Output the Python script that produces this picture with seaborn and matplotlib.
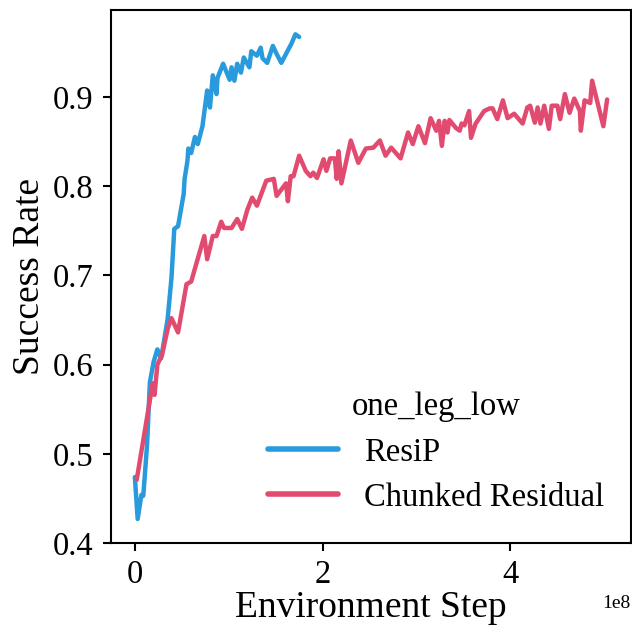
import pandas as pd
import matplotlib
matplotlib.use("Agg")
import matplotlib.pyplot as plt
import seaborn as sns

# --- datos (x en unidades de 1e8) ---
resip_step = [0.00, 0.03, 0.07, 0.09, 0.13, 0.16, 0.20, 0.24, 0.28, 0.34, 0.35, 0.39,
              0.42, 0.46, 0.52, 0.53, 0.56, 0.57, 0.60, 0.64, 0.67, 0.72, 0.77, 0.80,
              0.83, 0.87, 0.88, 0.94, 1.01, 1.03, 1.06, 1.09, 1.13, 1.16, 1.22, 1.24,
              1.30, 1.34, 1.36, 1.41, 1.47, 1.51, 1.56, 1.61, 1.67, 1.71, 1.75]
resip_success = [0.474, 0.427, 0.454, 0.453, 0.510, 0.580, 0.603, 0.617, 0.607, 0.645,
                 0.652, 0.697, 0.752, 0.755, 0.791, 0.808, 0.828, 0.842, 0.837, 0.855,
                 0.847, 0.867, 0.907, 0.888, 0.924, 0.903, 0.921, 0.937, 0.919, 0.933,
                 0.918, 0.937, 0.927, 0.944, 0.933, 0.951, 0.946, 0.955, 0.943, 0.938,
                 0.957, 0.948, 0.938, 0.948, 0.960, 0.970, 0.967]

chunked_step = [0.02, 0.19, 0.21, 0.24, 0.29, 0.35, 0.39, 0.46, 0.55, 0.60, 0.74, 0.77,
                0.83, 0.87, 0.92, 0.95, 1.03, 1.09, 1.14, 1.20, 1.25, 1.30, 1.40, 1.48,
                1.51, 1.61, 1.63, 1.66, 1.69, 1.75, 1.82, 1.87, 1.90, 1.94, 2.01, 2.04,
                2.08, 2.13, 2.15, 2.17, 2.20, 2.30, 2.38, 2.46, 2.54, 2.61, 2.67, 2.73,
                2.83, 2.91, 2.96, 3.02, 3.09, 3.15, 3.21, 3.24, 3.27, 3.30, 3.33, 3.35,
                3.42, 3.46, 3.48, 3.51, 3.56, 3.58, 3.63, 3.72, 3.78, 3.81, 3.86, 3.92,
                3.97, 4.04, 4.13, 4.18, 4.21, 4.26, 4.29, 4.32, 4.36, 4.41, 4.44, 4.50,
                4.53, 4.58, 4.63, 4.68, 4.74, 4.75, 4.79, 4.85, 4.87, 4.91, 4.99, 5.03]
chunked_success = [0.471, 0.579, 0.566, 0.600, 0.611, 0.640, 0.652, 0.636, 0.690, 0.693,
                   0.744, 0.718, 0.744, 0.744, 0.760, 0.753, 0.753, 0.763, 0.752, 0.774,
                   0.787, 0.778, 0.806, 0.808, 0.789, 0.803, 0.783, 0.811, 0.811, 0.834,
                   0.817, 0.811, 0.815, 0.809, 0.830, 0.817, 0.831, 0.831, 0.808, 0.839,
                   0.803, 0.851, 0.826, 0.842, 0.843, 0.851, 0.834, 0.843, 0.831, 0.860,
                   0.847, 0.867, 0.848, 0.876, 0.862, 0.873, 0.845, 0.873, 0.860, 0.874,
                   0.865, 0.862, 0.870, 0.868, 0.884, 0.854, 0.870, 0.884, 0.887, 0.887,
                   0.875, 0.896, 0.876, 0.881, 0.870, 0.888, 0.890, 0.871, 0.888, 0.870,
                   0.890, 0.864, 0.890, 0.890, 0.875, 0.903, 0.882, 0.898, 0.884, 0.862,
                   0.896, 0.893, 0.918, 0.901, 0.867, 0.897]

methods = ["ResiP", "Chunked Residual"]
colores = {"ResiP": "#299BDC", "Chunked Residual": "#E24B70"}

df = pd.concat([
    pd.DataFrame({"step": [s * 1e8 for s in resip_step], "success": resip_success, "method": "ResiP"}),
    pd.DataFrame({"step": [s * 1e8 for s in chunked_step], "success": chunked_success, "method": "Chunked Residual"}),
], ignore_index=True)

sns.set_theme(style="ticks", rc={"text.color": "black", "axes.labelcolor": "black",
                                 "xtick.color": "black", "ytick.color": "black",
                                 "axes.edgecolor": "black"})
plt.rcParams['font.family'] = ['Liberation Serif', 'DejaVu Serif']
plt.rcParams['mathtext.fontset'] = 'stix'

fig, ax = plt.subplots(figsize=(6.32, 6.28), dpi=100)
fig.subplots_adjust(left=0.176, right=0.998, top=0.984, bottom=0.135)

sns.lineplot(data=df, x="step", y="success", hue="method", hue_order=methods,
             palette=colores, linewidth=3.2, ax=ax, estimator=None, sort=False)

ax.set_xlabel("Environment Step", fontsize=27, labelpad=0)
ax.set_ylabel("Success Rate", fontsize=27)
ax.tick_params(axis="both", labelsize=23.5, length=6, width=1.5, pad=7)
ax.tick_params(axis="x", pad=6)
ax.xaxis.get_offset_text().set_fontsize(14)
ax.set_yticks([0.4, 0.5, 0.6, 0.7, 0.8, 0.9])
for sp in ax.spines.values():
    sp.set_linewidth(1.5)

leg = ax.legend(title="one_leg_low", loc="lower right", frameon=False,
                fontsize=23.5, title_fontsize=23.5, handlelength=2.15,
                borderaxespad=0.4, labelspacing=0.45, bbox_to_anchor=(1.0, 0.008))
for line in leg.get_lines():
    line.set_linewidth(4)

plt.savefig("out.png", dpi=100)
